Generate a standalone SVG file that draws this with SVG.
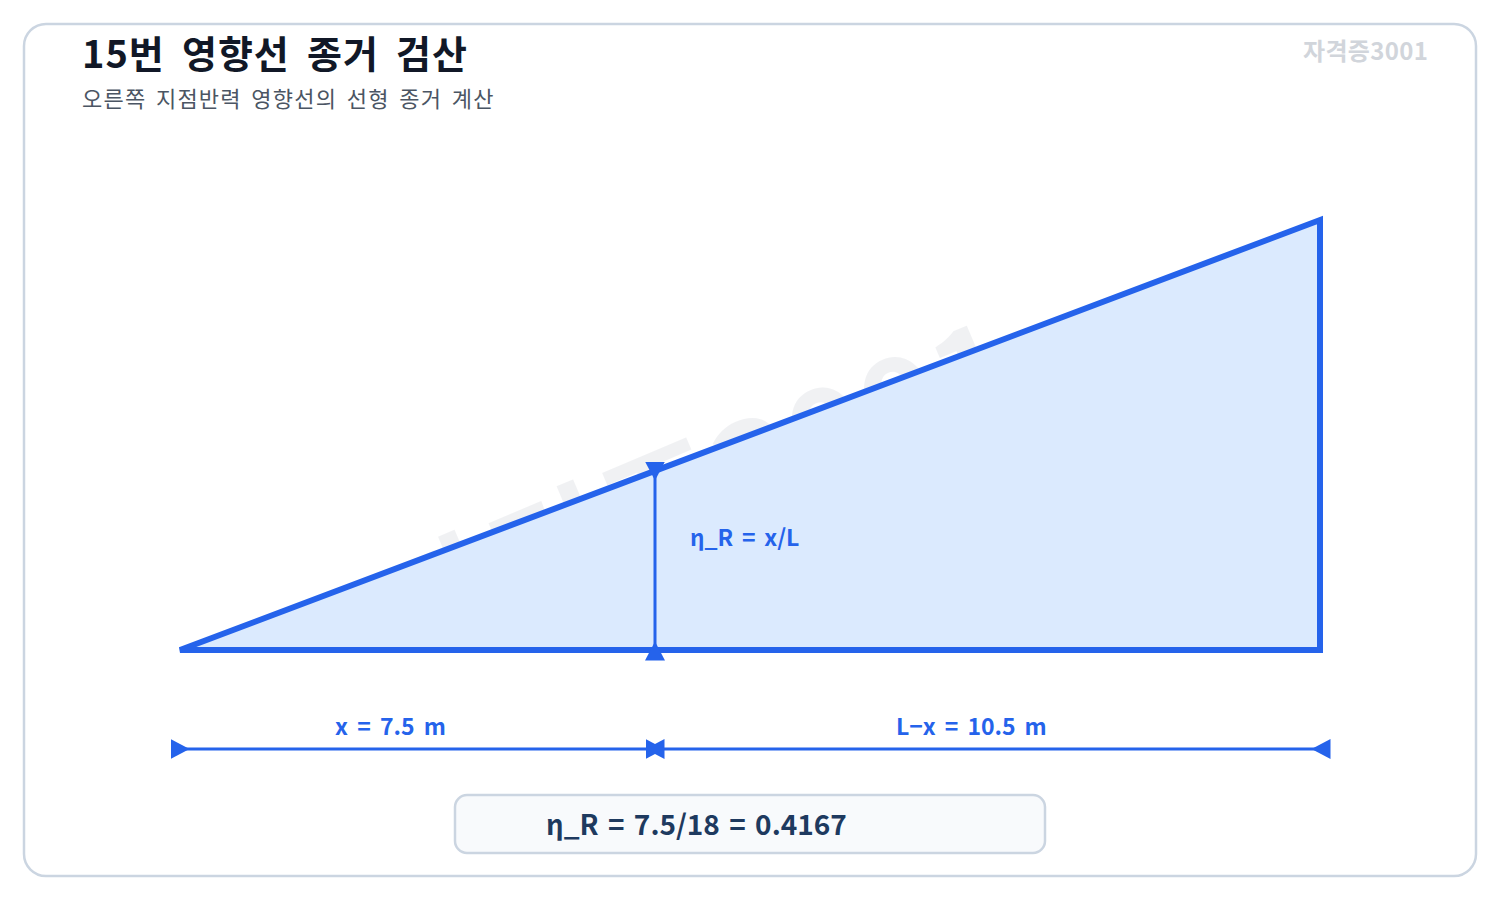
<svg xmlns="http://www.w3.org/2000/svg" width="1500" height="900" viewBox="0 0 1500 900">
  <style>
    .kr { font-family: "Noto Sans CJK KR", "Noto Sans", sans-serif; }
    .title { font-size: 38px; font-weight: 700; fill: #111827; letter-spacing: 1px; word-spacing: 7.5px; }
    .sub { font-size: 22px; font-weight: 400; fill: #4b5563; letter-spacing: 1.2px; word-spacing: 3.5px; }
    .tag { font-size: 24px; font-weight: 700; fill: #d1d5db; }
    .wm { font-size: 126px; font-weight: 700; fill: #e5e7eb; opacity: 0.55; }
    .lbl { font-size: 23px; font-weight: 700; fill: #2563eb; word-spacing: 4px; }
    .res { font-size: 28px; font-weight: 700; fill: #1e3a5f; word-spacing: 3px; }
    .dim { stroke: #2563eb; stroke-width: 3; fill: none; }
  </style>
  <defs>
    <marker id="arr" viewBox="0 0 19 20" refX="9.5" refY="10" markerWidth="19" markerHeight="20" markerUnits="userSpaceOnUse" orient="auto-start-reverse">
      <path d="M19 0 L0 10 L19 20 Z" fill="#2563eb"/>
    </marker>
  </defs>
  <rect x="0" y="0" width="1500" height="900" fill="#ffffff"/>
  <rect x="24" y="24" width="1452" height="852" rx="22" ry="22" fill="#ffffff" stroke="#cbd5e1" stroke-width="2.5"/>

  <g id="header">
    <text class="kr title" x="82" y="68">15번 영향선 종거 검산</text>
    <text class="kr sub" x="82" y="107">오른쪽 지점반력 영향선의 선형 종거 계산</text>
    <text class="kr tag" x="1303" y="60" textLength="125" lengthAdjust="spacing">자격증3001</text>
  </g>

  <text class="kr wm" x="375" y="534" textLength="680" lengthAdjust="spacingAndGlyphs" transform="rotate(-23 715 534)">자격증3001</text>

  <g id="influence-line">
    <path d="M180 650 L1320 220 L1320 650 Z" fill="#dbeafe" stroke="#2563eb" stroke-width="6" stroke-linejoin="miter"/>
  </g>

  <g id="connectors">
    <line class="dim" x1="655" y1="471" x2="655" y2="651" marker-start="url(#arr)" marker-end="url(#arr)"/>
    <line class="dim" x1="180" y1="749" x2="655" y2="749" marker-start="url(#arr)" marker-end="url(#arr)"/>
    <line class="dim" x1="655" y1="749" x2="1321" y2="749" marker-start="url(#arr)" marker-end="url(#arr)"/>
  </g>

  <g id="ordinate-label">
    <text class="kr lbl" x="690" y="546" style="word-spacing:3.5px">η_R = x/L</text>
  </g>
  <g id="dim-x">
    <text class="kr lbl" x="335" y="735">x = 7.5 m</text>
  </g>
  <g id="dim-lx">
    <text class="kr lbl" x="896" y="735" style="word-spacing:3.8px">L−x = 10.5 m</text>
  </g>

  <g id="result">
    <rect x="455" y="795" width="590" height="58" rx="12" ry="12" fill="#f8fafc" stroke="#cbd5e1" stroke-width="2.5"/>
    <text class="kr res" x="546" y="835">η_R = 7.5/18 = 0.4167</text>
  </g>
</svg>
